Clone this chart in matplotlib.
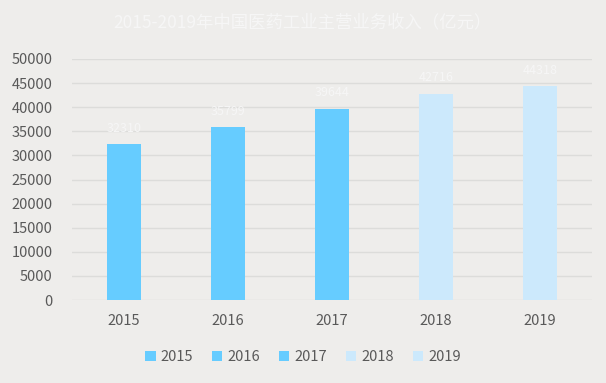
import matplotlib.pyplot as plt
from matplotlib.patches import Patch

plt.rcParams['font.family'] = ['Noto Sans CJK SC', 'DejaVu Sans']

categories = ['2015', '2016', '2017', '2018', '2019']
values = [32310, 35799, 39644, 42716, 44318]
labels = ['32310', '35799', '39644', '42716', '44318']
colors = ['#66CCFF', '#66CCFF', '#66CCFF', '#CCE9FC', '#CCE9FC']
title = '2015-2019年中国医药工业主营业务收入（亿元）'

bg = '#EEEDEB'
fig = plt.figure(figsize=(6.06, 3.83), dpi=100, facecolor=bg)
ax = fig.add_axes([72/606, 1-300/383, (592-72)/606, (300-59)/383], facecolor=bg)

x = range(len(categories))
ax.bar(x, values, width=0.32, color=colors, zorder=3)
for i, (v, l) in enumerate(zip(values, labels)):
    ax.text(i, v + 2000, l, ha='center', va='bottom', color='#F6F6F6', fontsize=9, zorder=4)

ax.set_ylim(0, 50000)
ax.set_xlim(-0.5, 4.5)
ax.set_yticks(range(0, 50001, 5000))
ax.set_xticks(list(x))
ax.set_xticklabels(categories)
ax.tick_params(axis='both', length=0, colors='#595959', labelsize=10.5)
ax.tick_params(axis='x', pad=10)
ax.tick_params(axis='y', pad=14)
ax.grid(axis='y', color='#DCDCDA', linewidth=1, zorder=0)
for s in ax.spines.values():
    s.set_visible(False)

fig.text(0.5, 1-22/383, title, ha='center', va='center', color='#F6F6F6', fontsize=12.5)

handles = [Patch(facecolor=c, edgecolor='none') for c in colors]
fig.legend(handles, categories, loc='center', bbox_to_anchor=(0.5, 1-357/383), ncol=5,
           frameon=False, fontsize=10.5, handlelength=0.7, handleheight=0.7,
           handletextpad=0.35, columnspacing=1.3, labelcolor='#595959')

fig.savefig('out.png', dpi=100, facecolor=bg)
